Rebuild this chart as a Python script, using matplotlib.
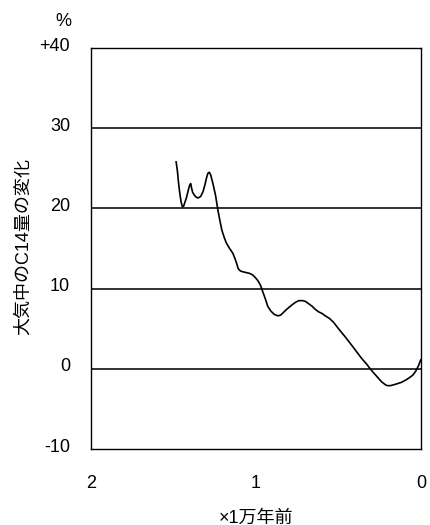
import matplotlib
matplotlib.use("Agg")
import matplotlib.pyplot as plt
import matplotlib.transforms as mtransforms

plt.rcParams['font.family'] = ['Liberation Sans', 'Noto Sans CJK JP', 'DejaVu Sans']

# Age (x 10,000 years ago) and change of atmospheric C14 (%)
age = [1.484, 1.476, 1.470, 1.462, 1.454, 1.446, 1.438, 1.432, 1.422, 1.410, 1.402, 1.396,
       1.390, 1.384, 1.372, 1.362, 1.352, 1.342, 1.335, 1.321, 1.310, 1.300, 1.291, 1.283,
       1.275, 1.261, 1.245, 1.231, 1.218, 1.207, 1.193, 1.180, 1.160, 1.140, 1.125, 1.115,
       1.108, 1.095, 1.080, 1.060, 1.039, 1.020, 1.005, 0.989, 0.975, 0.965, 0.959, 0.950,
       0.940, 0.929, 0.910, 0.890, 0.868, 0.850, 0.835, 0.815, 0.798, 0.780, 0.760, 0.740,
       0.717, 0.700, 0.680, 0.660, 0.640, 0.620, 0.600, 0.580, 0.556, 0.530, 0.500, 0.460,
       0.415, 0.360, 0.330, 0.304, 0.270, 0.240, 0.215, 0.204, 0.185, 0.150, 0.120, 0.092,
       0.070, 0.050, 0.032, 0.015, 0.002]
c14 = [25.8, 24.6, 23.3, 21.9, 20.8, 20.2, 20.3, 20.7, 21.3, 22.3, 22.9, 23.1,
       22.5, 22.0, 21.6, 21.4, 21.3, 21.4, 21.5, 22.1, 22.9, 23.8, 24.4, 24.5,
       24.2, 23.1, 21.6, 19.8, 18.4, 17.3, 16.4, 15.7, 15.0, 14.4, 13.6, 13.0,
       12.5, 12.2, 12.1, 12.0, 11.9, 11.7, 11.4, 11.0, 10.5, 10.0, 9.6, 9.1,
       8.5, 7.8, 7.2, 6.8, 6.6, 6.7, 7.0, 7.4, 7.7, 8.0, 8.3, 8.5,
       8.5, 8.4, 8.1, 7.8, 7.4, 7.1, 6.9, 6.6, 6.3, 5.8, 5.0, 4.0,
       2.8, 1.3, 0.6, -0.1, -0.9, -1.6, -2.0, -2.1, -2.1, -1.9, -1.7, -1.4,
       -1.1, -0.8, -0.3, 0.4, 1.1]

yticks = [-10, 0, 10, 20, 30, 40]
ytick_labels = ['-10', '0', '10', '20', '30', '+40']
xticks = [2, 1, 0]
xtick_labels = ['2', '1', '0']

fig = plt.figure(figsize=(4.30, 5.25), dpi=100)
ax = fig.add_axes([91/430, (525-449)/525, (421-91)/430, (449-48)/525])

for v in [0, 10, 20, 30]:
    ax.axhline(v, color='#222222', lw=1.3, zorder=1)

ax.plot(age, c14, color='black', lw=1.2, zorder=3)

ax.set_xlim(2, 0)
ax.set_ylim(-10, 40)
ax.set_xticks(xticks)
ax.set_xticklabels(xtick_labels)
ax.set_yticks(yticks)
ax.set_yticklabels(ytick_labels)
ax.tick_params(axis='both', length=0, labelsize=13, colors='black')
ax.tick_params(axis='y', pad=15)
ax.tick_params(axis='x', pad=19)

offset = mtransforms.ScaledTranslation(0, 4/100, fig.dpi_scale_trans)
for lab in ax.get_yticklabels():
    lab.set_transform(lab.get_transform() + offset)

for s in ax.spines.values():
    s.set_color('black')
    s.set_linewidth(1.0)

fig.text(63/430, 1 - 22/525, '%', ha='center', va='center', fontsize=13)
fig.text(23/430, 1 - 247/525, '大気中のC14量の変化', rotation=90,
         ha='center', va='center', fontsize=13)
fig.text(256/430, 1 - 518/525, '×1万年前', ha='center', va='center', fontsize=13)

fig.savefig('out.png', dpi=100)
